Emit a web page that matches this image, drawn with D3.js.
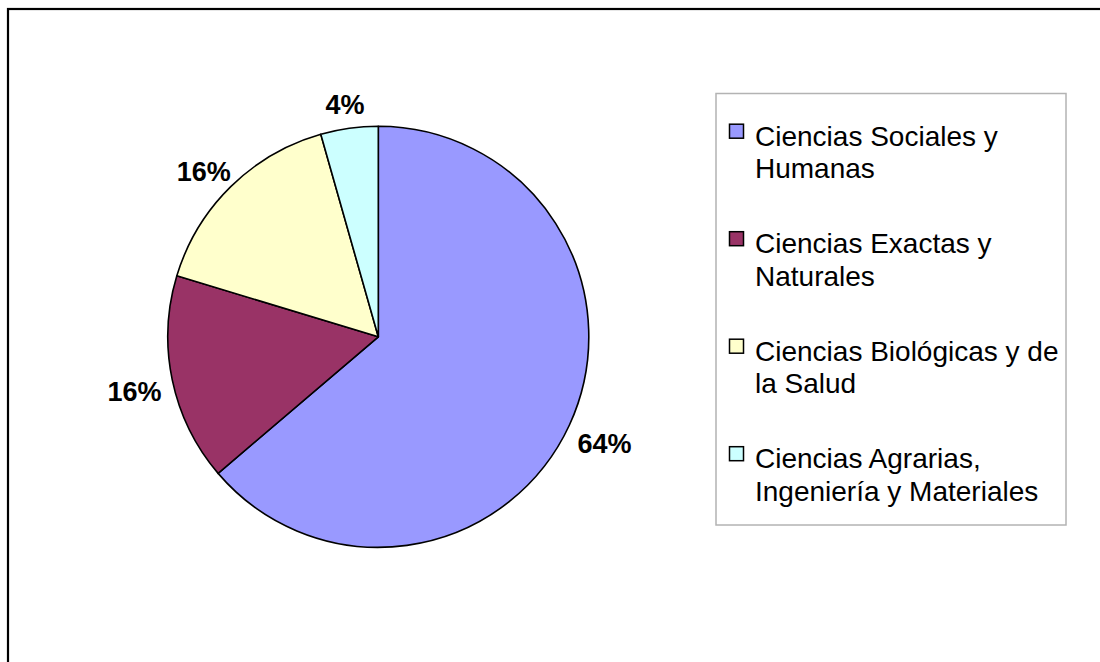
<!DOCTYPE html>
<html>
<head>
<meta charset="utf-8">
<script src="https://cdn.jsdelivr.net/npm/d3@7"></script>
<style>
  html, body { margin: 0; padding: 0; background: #fff; }
  svg { display: block; font-family: "Liberation Sans", Arial, sans-serif; }
</style>
</head>
<body>
<svg id="chart" width="1100" height="662"></svg>
<script>
// ---- data ----
const categories = [
  "Ciencias Sociales y\nHumanas",
  "Ciencias Exactas y\nNaturales",
  "Ciencias Biológicas y de\nla Salud",
  "Ciencias Agrarias,\nIngeniería y Materiales"
];
const values = [63.7, 15.9, 15.9, 4.4];
const colors = ["#9999FF", "#993366", "#FFFFCC", "#CCFFFF"];

// ---- layout ----
const cx = 378.3, cy = 336.8, R = 210.5;
const svg = d3.select("#chart");

// outer frame
svg.append("rect")
  .attr("x", 8).attr("y", 9)
  .attr("width", 1110).attr("height", 700)
  .attr("fill", "#fff").attr("stroke", "#000").attr("stroke-width", 2.2);

const total = d3.sum(values);
const pie = d3.pie().sort(null).value(d => d)
  .startAngle(0).endAngle(2 * Math.PI);
const arcs = pie(values);
const arc = d3.arc().innerRadius(0).outerRadius(R);

const g = svg.append("g").attr("transform", `translate(${cx},${cy})`);
g.selectAll("path.slice")
  .data(arcs)
  .enter().append("path")
  .attr("class", "slice")
  .attr("d", arc)
  .attr("fill", (d, i) => colors[i])
  .attr("stroke", "#000")
  .attr("stroke-width", 1.6)
  .attr("stroke-linejoin", "round");

// percentage labels outside the slices
const fmt = v => Math.round(v / total * 100) + "%";
const labelGap = 222;
const labelH = 37.2, labelShift = 5.9;
const labels = g.selectAll("text.pct")
  .data(arcs)
  .enter().append("text")
  .attr("class", "pct")
  .attr("font-size", 27)
  .attr("font-weight", "bold")
  .attr("text-anchor", "middle")
  .attr("fill", "#000")
  .text(d => fmt(d.value));
labels.each(function(d) {
  const a = (d.startAngle + d.endAngle) / 2;
  const w = this.getComputedTextLength();
  const sx = Math.sin(a), sy = -Math.cos(a);
  const x = sx * (labelGap + w / 2);
  const y = sy * (labelGap + labelH / 2) + labelShift;
  d3.select(this).attr("x", x).attr("y", y).attr("dy", "0.35em");
});

// legend
const lg = svg.append("g");
lg.append("rect")
  .attr("x", 716).attr("y", 93.5)
  .attr("width", 350).attr("height", 431.5)
  .attr("fill", "#fff").attr("stroke", "#b3b3b3").attr("stroke-width", 1.5);

const firstBaseline = 145.7, entryStep = 107.5, lineH = 32.6;
const entries = lg.selectAll("g.entry")
  .data(categories)
  .enter().append("g")
  .attr("class", "entry")
  .attr("transform", (d, i) => `translate(0,${firstBaseline + i * entryStep})`);

entries.append("rect")
  .attr("x", 729.5).attr("y", -21.5)
  .attr("width", 14).attr("height", 14)
  .attr("fill", (d, i) => colors[i])
  .attr("stroke", "#000").attr("stroke-width", 1.5);

entries.append("text")
  .attr("x", 755).attr("y", 0)
  .attr("font-size", 28)
  .attr("fill", "#000")
  .each(function(d) {
    const t = d3.select(this);
    d.split("\n").forEach((line, k) => {
      t.append("tspan").attr("x", 755).attr("y", k * lineH).text(line);
    });
  });
</script>
</body>
</html>
